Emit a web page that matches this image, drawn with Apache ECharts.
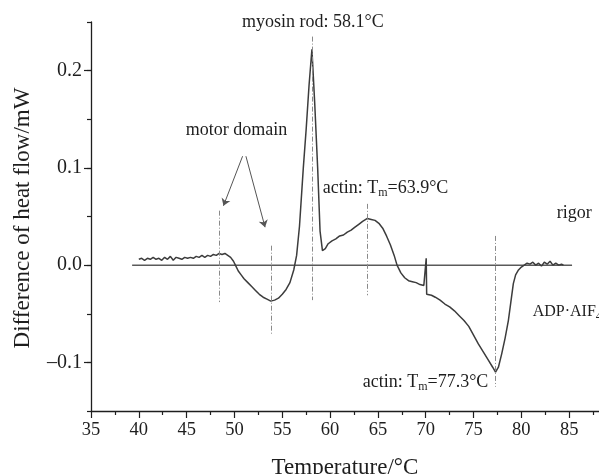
<!DOCTYPE html>
<html>
<head>
<meta charset="utf-8">
<script src="https://cdn.jsdelivr.net/npm/echarts@6/dist/echarts.min.js"></script>
<style>
  html, body { margin: 0; padding: 0; background: #fff; }
  #chart { width: 599px; height: 474px; }
</style>
</head>
<body>
<div id="chart"></div>
<script>
// DSC trace: temperature (°C) vs. difference of heat flow (mW)
const heatFlow = [
  [40.0, 0.006], [40.3, 0.007], [40.6, 0.005], [40.9, 0.007], [41.2, 0.006],
  [41.5, 0.008], [41.8, 0.006], [42.1, 0.007], [42.4, 0.005], [42.7, 0.008],
  [43.0, 0.006], [43.3, 0.009], [43.6, 0.005], [43.9, 0.008], [44.2, 0.007],
  [44.5, 0.006], [44.8, 0.008], [45.1, 0.007], [45.4, 0.008], [45.7, 0.007],
  [46.0, 0.009], [46.3, 0.008], [46.6, 0.010], [46.9, 0.008], [47.2, 0.010],
  [47.5, 0.009], [47.8, 0.011], [48.1, 0.010], [48.4, 0.012], [48.7, 0.011],
  [49.0, 0.012], [49.3, 0.010], [49.6, 0.008], [49.9, 0.004], [50.1, 0.000],
  [50.4, -0.006], [50.7, -0.010], [51.0, -0.014], [51.4, -0.018], [51.8, -0.022],
  [52.2, -0.026], [52.6, -0.030], [53.0, -0.033], [53.4, -0.035], [53.8, -0.037],
  [54.2, -0.036], [54.6, -0.034], [55.0, -0.030], [55.4, -0.025], [55.8, -0.018],
  [56.2, -0.005], [56.5, 0.010], [56.8, 0.040], [57.2, 0.100], [57.5, 0.140],
  [57.8, 0.185], [58.1, 0.222], [58.4, 0.165], [58.7, 0.100], [58.95, 0.035],
  [59.2, 0.015], [59.5, 0.017], [59.8, 0.022], [60.2, 0.025], [60.6, 0.027],
  [61.0, 0.030], [61.4, 0.031], [61.8, 0.034], [62.2, 0.036], [62.6, 0.039],
  [63.0, 0.042], [63.4, 0.045], [63.9, 0.048], [64.3, 0.047], [64.7, 0.046],
  [65.1, 0.043], [65.5, 0.038], [65.9, 0.030], [66.3, 0.021], [66.7, 0.010],
  [67.0, 0.000], [67.4, -0.008], [67.8, -0.013], [68.2, -0.016], [68.6, -0.017],
  [69.0, -0.018], [69.4, -0.020], [69.8, -0.021], [70.0, -0.023], [70.05, 0.007],
  [70.1, -0.030], [70.3, -0.029], [70.6, -0.031], [71.0, -0.033], [71.5, -0.036],
  [72.0, -0.040], [72.5, -0.043], [73.0, -0.047], [73.5, -0.052], [74.0, -0.057],
  [74.5, -0.063], [75.0, -0.072], [75.5, -0.081], [76.0, -0.089], [76.5, -0.097],
  [77.0, -0.105], [77.3, -0.110], [77.6, -0.105], [77.95, -0.091], [78.3, -0.075],
  [78.64, -0.057], [78.9, -0.038], [79.16, -0.019], [79.4, -0.010], [79.7, -0.005],
  [80.0, -0.002], [80.3, 0.000], [80.6, 0.002], [80.9, 0.001], [81.2, 0.003],
  [81.5, 0.000], [81.8, 0.002], [82.1, -0.001], [82.4, 0.003], [82.7, 0.001],
  [83.0, 0.004], [83.3, 0.000], [83.6, 0.002], [83.9, 0.000], [84.2, 0.001],
  [84.4, 0.000]
];

// zero reference line
const baseline = [[39.3, 0], [85.3, 0]];

// transition temperatures marked with dash-dot lines: [T, top, bottom]
const transitions = [
  [48.4, 0.056, -0.038],
  [53.8, 0.020, -0.072],
  [58.1, 0.235, -0.036],
  [63.9, 0.063, -0.031],
  [77.3, 0.030, -0.125]
];

// arrows from the "motor domain" label: [fromT, fromV, toT, toV]
const arrows = [
  [50.85, 0.112, 48.85, 0.061],
  [51.2, 0.112, 53.2, 0.039]
];

const xLabelValues = [35, 40, 45, 50, 55, 60, 65, 70, 75, 80, 85];
const yLabelValues = [-0.1, 0, 0.1, 0.2];

const serif = '"Liberation Serif", "Times New Roman", serif';
const ink = '#1e1e1e';

const chart = echarts.init(document.getElementById('chart'), null, { renderer: 'canvas' });

const markLines = transitions.map(t => [
  { coord: [t[0], t[1]], lineStyle: { type: [5, 2, 1, 2], color: '#8a8a8a', width: 1 }, symbol: 'none' },
  { coord: [t[0], t[2]], symbol: 'none' }
]).concat(arrows.map(a => [
  { coord: [a[0], a[1]], lineStyle: { type: 'solid', color: '#555', width: 1 } },
  { coord: [a[2], a[3]] }
]));

const subRich = {
  sub: { fontSize: 12, fontFamily: serif, fill: ink, verticalAlign: 'top', padding: [9, 0, 0, 0] }
};

function label(x, y, text, size) {
  return {
    type: 'text', x: x, y: y, silent: true,
    style: {
      text: text, fontSize: size || 18, fontFamily: serif, fill: ink,
      align: 'left', verticalAlign: 'middle', rich: subRich
    }
  };
}

chart.setOption({
  animation: false,
  backgroundColor: '#fff',
  grid: { left: 91, top: 22, bottom: 63, right: -18, containLabel: false, outerBoundsMode: 'none' },
  xAxis: {
    type: 'value', min: 35, max: 90, interval: 5,
    axisLine: { onZero: false, lineStyle: { color: ink, width: 1.3 } },
    axisTick: { show: true, inside: false, length: 7, lineStyle: { color: ink, width: 1.2 } },
    minorTick: { show: true, splitNumber: 2, length: 4, lineStyle: { color: ink, width: 1.2 } },
    axisLabel: { fontSize: 18.5, fontFamily: serif, color: ink, margin: 10, customValues: xLabelValues },
    splitLine: { show: false }
  },
  yAxis: [
    {
      type: 'value', min: -0.15, max: 0.25, interval: 0.05, position: 'left',
      axisLine: { show: true, onZero: false, lineStyle: { color: ink, width: 1.3 } },
      axisTick: { show: true, length: 4, lineStyle: { color: ink, width: 1.2 } },
      axisLabel: { show: false },
      splitLine: { show: false }
    },
    {
      type: 'value', min: -0.15, max: 0.25, interval: 0.05, position: 'left',
      axisLine: { show: false, onZero: false },
      axisTick: { show: true, length: 7, customValues: yLabelValues, lineStyle: { color: ink, width: 1.2 } },
      axisLabel: {
        show: true, customValues: yLabelValues, fontSize: 20, fontFamily: serif, color: ink, margin: 9,
        formatter: v => (v < 0 ? '\u2013' : '') + Math.abs(v).toFixed(1)
      },
      splitLine: { show: false }
    }
  ],
  series: [
    {
      type: 'line', data: baseline, showSymbol: false, silent: true,
      lineStyle: { color: '#5a5a5a', width: 1.5 }, z: 2
    },
    {
      type: 'line', data: heatFlow, showSymbol: false, silent: true,
      lineStyle: { color: '#3c3c3c', width: 1.5 }, z: 3,
      markLine: {
        silent: true, animation: false,
        symbol: ['none', 'arrow'], symbolSize: 7,
        label: { show: false },
        emphasis: { disabled: true },
        data: markLines
      }
    }
  ],
  graphic: [
    label(242, 22.7, 'myosin rod: 58.1°C'),
    label(185.7, 130.4, 'motor domain'),
    label(322.7, 188.7, 'actin: T{sub|m}=63.9°C'),
    label(556.7, 213.7, 'rigor'),
    label(532.7, 312, 'ADP·AIF{sub|4}', 16),
    label(362.7, 382, 'actin: T{sub|m}=77.3°C'),
    {
      type: 'text', x: 23, y: 218, rotation: Math.PI / 2, silent: true,
      style: { text: 'Difference of heat flow/mW', fontSize: 23, fontFamily: serif, fill: ink, align: 'center', verticalAlign: 'middle' }
    },
    {
      type: 'text', x: 345, y: 468, silent: true,
      style: { text: 'Temperature/°C', fontSize: 23, fontFamily: serif, fill: ink, align: 'center', verticalAlign: 'middle' }
    }
  ]
});
</script>
</body>
</html>
